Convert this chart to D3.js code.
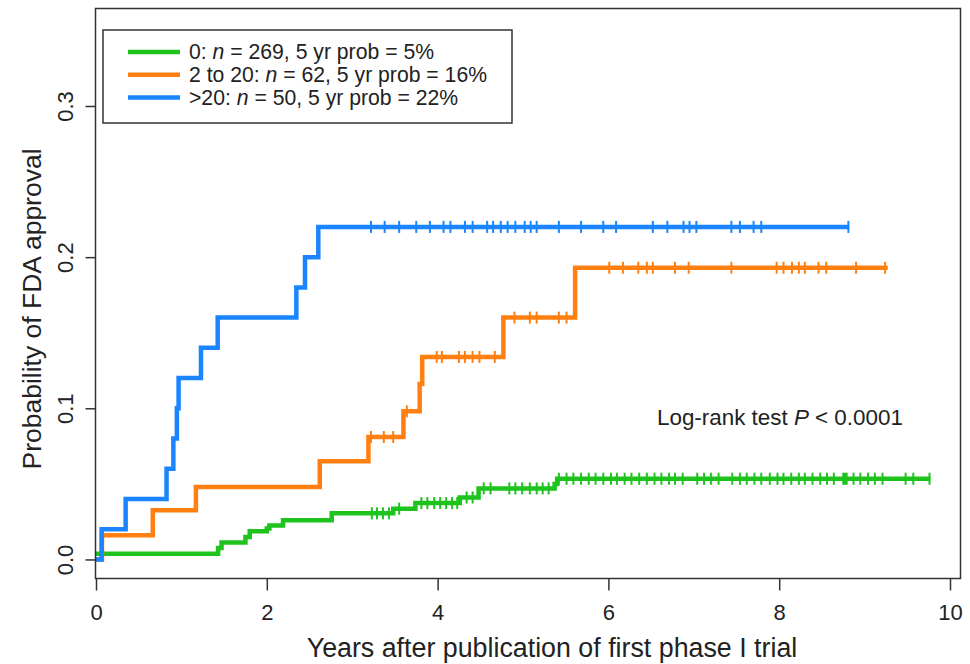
<!DOCTYPE html>
<html>
<head>
<meta charset="utf-8">
<script src="https://cdn.jsdelivr.net/npm/d3@7"></script>
<style>
  body { margin: 0; background: #fff; }
  svg { font-family: "Liberation Sans", Arial, sans-serif; }
</style>
</head>
<body>
<svg id="chart" width="970" height="664"></svg>
<script>
// step curves: time of each jump (years) and cumulative probability after it
const greenTimes = [0, 1.43, 1.47, 1.75, 1.80, 2.00, 2.03, 2.19, 2.76, 3.48, 3.74, 4.26, 4.48, 5.37, 5.40];
const greenProbs = [0.0037, 0.0075, 0.0112, 0.0149, 0.0186, 0.0205, 0.0224, 0.026, 0.0305, 0.0336, 0.0373, 0.041, 0.047, 0.050, 0.0534];
const greenEnd = 9.77;
const greenCensor = [3.23, 3.29, 3.36, 3.43, 3.55, 3.81, 3.88, 3.96, 4.03, 4.10, 4.17, 4.23, 4.34, 4.41,
  4.54, 4.62, 4.84, 4.91, 4.99, 5.08, 5.16, 5.23, 5.30, 5.42, 5.51, 5.59, 5.68, 5.77, 5.85, 5.94,
  6.03, 6.10, 6.19, 6.27, 6.36, 6.45, 6.54, 6.62, 6.71, 6.78, 6.87, 7.04, 7.12, 7.20, 7.29, 7.45,
  7.54, 7.62, 7.71, 7.79, 7.89, 7.98, 8.05, 8.14, 8.23, 8.30, 8.39, 8.48, 8.56, 8.64, 8.75, 8.77,
  8.79, 8.87, 8.95, 9.04, 9.12, 9.21, 9.48, 9.57, 9.76];

const orangeTimes = [0, 0.07, 0.665, 1.17, 2.62, 3.19, 3.60, 3.79, 3.82, 4.77, 5.61];
const orangeProbs = [0, 0.016, 0.0325, 0.048, 0.065, 0.081, 0.098, 0.116, 0.134, 0.16, 0.193];
const orangeEnd = 9.27;
const orangeCensor = [3.22, 3.37, 3.48, 3.64, 3.99, 4.05, 4.25, 4.32, 4.41, 4.49, 4.67, 4.90, 5.08,
  5.16, 5.42, 5.51, 6.01, 6.17, 6.35, 6.45, 6.52, 6.78, 6.94, 7.44, 7.97, 8.05, 8.15, 8.23, 8.30,
  8.46, 8.55, 8.90, 9.24];

const blueTimes = [0, 0.066, 0.347, 0.826, 0.906, 0.947, 0.967, 1.229, 1.425, 2.346, 2.447, 2.603];
const blueProbs = [0, 0.02, 0.04, 0.06, 0.08, 0.10, 0.12, 0.14, 0.16, 0.18, 0.20, 0.22];
const blueEnd = 8.82;
const blueCensor = [3.22, 3.38, 3.55, 3.75, 3.91, 4.07, 4.15, 4.32, 4.41, 4.58, 4.65, 4.74, 4.82,
  4.91, 5.02, 5.09, 5.16, 5.42, 5.68, 5.94, 6.09, 6.52, 6.69, 6.88, 6.95, 7.03, 7.44, 7.54, 7.70,
  7.79, 8.81];

const xTicks = [0, 2, 4, 6, 8, 10];
const yTicks = [0, 0.1, 0.2, 0.3];

const groups = [
  { label: "0:", n: 269, prob: "5%", color: "#1ec31e", times: greenTimes, probs: greenProbs, end: greenEnd, censor: greenCensor },
  { label: "2 to 20:", n: 62, prob: "16%", color: "#ff8010", times: orangeTimes, probs: orangeProbs, end: orangeEnd, censor: orangeCensor },
  { label: ">20:", n: 50, prob: "22%", color: "#1a85ff", times: blueTimes, probs: blueProbs, end: blueEnd, censor: blueCensor }
];

const svg = d3.select("#chart");
const plotLeft = 95.5, plotRight = 960.5, plotTop = 8.5, plotBottom = 578.5;

const x = d3.scaleLinear().domain([0, 10.117]).range([96, 960]);
const y = d3.scaleLinear().domain([-0.0126, 0.3645]).range([plotBottom, plotTop]);

// value of the step curve at time t
function probAt(g, t) {
  const i = d3.bisectRight(g.times, t) - 1;
  return g.probs[Math.max(i, 0)];
}

const line = d3.line()
    .x(d => x(d[0]))
    .y(d => y(d[1]))
    .curve(d3.curveStepAfter);

groups.forEach(g => {
  const pts = g.times.map((t, i) => [t, g.probs[i]]);
  pts.push([g.end, g.probs[g.probs.length - 1]]);

  svg.append("path")
      .datum(pts)
      .attr("fill", "none")
      .attr("stroke", g.color)
      .attr("stroke-width", 4.5)
      .attr("d", line);

  svg.append("g")
    .selectAll("line")
    .data(g.censor)
    .join("line")
      .attr("x1", d => x(d))
      .attr("x2", d => x(d))
      .attr("y1", d => y(probAt(g, d)) - 6)
      .attr("y2", d => y(probAt(g, d)) + 6)
      .attr("stroke", g.color)
      .attr("stroke-width", 2);
});

// frame
svg.append("rect")
    .attr("x", plotLeft)
    .attr("y", plotTop)
    .attr("width", plotRight - plotLeft)
    .attr("height", plotBottom - plotTop)
    .attr("fill", "none")
    .attr("stroke", "#333")
    .attr("stroke-width", 1.5);

// x axis
svg.append("g")
    .attr("transform", `translate(0, ${plotBottom})`)
    .call(d3.axisBottom(x).tickValues(xTicks).tickSize(12).tickPadding(14).tickFormat(d3.format("d")))
    .attr("font-size", 22)
    .attr("font-family", null)
    .call(g => g.select(".domain").remove())
    .call(g => g.selectAll(".tick line").attr("stroke", "#333").attr("stroke-width", 1.5))
    .call(g => g.selectAll(".tick text").attr("fill", "#222"));

// y axis (labels rotated as in R)
const yAxis = svg.append("g")
    .attr("transform", `translate(${plotLeft}, 0)`)
    .call(d3.axisLeft(y).tickValues(yTicks).tickSize(10).tickFormat(d3.format(".1f")))
    .attr("font-size", 22)
    .attr("font-family", null)
    .call(g => g.select(".domain").remove())
    .call(g => g.selectAll(".tick line").attr("stroke", "#333").attr("stroke-width", 1.5));
yAxis.selectAll(".tick text")
    .attr("fill", "#222")
    .attr("x", null)
    .attr("dy", null)
    .attr("text-anchor", "middle")
    .attr("transform", "translate(-22.5, 0) rotate(-90)");

svg.append("text")
    .attr("x", 552)
    .attr("y", 657)
    .attr("text-anchor", "middle")
    .attr("font-size", 26.8)
    .attr("fill", "#222")
    .text("Years after publication of first phase I trial");

svg.append("text")
    .attr("transform", "translate(41, 309) rotate(-90)")
    .attr("text-anchor", "middle")
    .attr("font-size", 26.5)
    .attr("fill", "#222")
    .text("Probability of FDA approval");

// legend
const legend = svg.append("g").attr("transform", "translate(103, 30)");
legend.append("rect")
    .attr("width", 409)
    .attr("height", 93)
    .attr("fill", "#fff")
    .attr("stroke", "#333")
    .attr("stroke-width", 1.5);

const item = legend.selectAll("g.item")
  .data(groups)
  .join("g")
    .attr("class", "item")
    .attr("transform", (d, i) => `translate(0, ${22 + i * 22.7})`);
item.append("line")
    .attr("x1", 25).attr("x2", 77)
    .attr("stroke", d => d.color)
    .attr("stroke-width", 4.5);
const t = item.append("text")
    .attr("x", 86)
    .attr("dy", "0.35em")
    .attr("font-size", 21.2)
    .attr("fill", "#222");
t.append("tspan").text(d => d.label + " ");
t.append("tspan").attr("font-style", "italic").text("n");
t.append("tspan").text(d => ` = ${d.n}, 5 yr prob = ${d.prob}`);

const lr = svg.append("text")
    .attr("x", 657)
    .attr("y", 425)
    .attr("font-size", 22.4)
    .attr("fill", "#222");
lr.append("tspan").text("Log-rank test ");
lr.append("tspan").attr("font-style", "italic").text("P");
lr.append("tspan").text(" < 0.0001");
</script>
</body>
</html>
